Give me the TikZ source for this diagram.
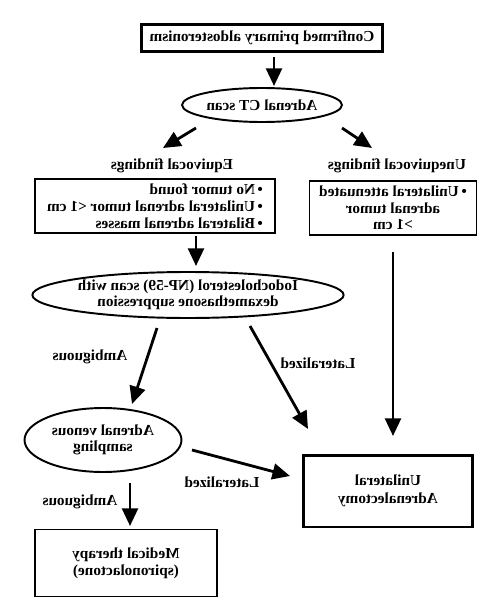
\documentclass[tikz,border=0pt]{standalone}
\usepackage{fontspec}
\setmainfont{Liberation Serif}
\usetikzlibrary{shapes.geometric}
\usetikzlibrary{arrows.meta}

\begin{document}
\begin{tikzpicture}[x=0.02cm,y=-0.02cm,
  every node/.style={font=\fontsize{8.7}{9.5}\selectfont\bfseries,xscale=-1,transform shape,inner sep=0pt},
  box/.style={draw,rectangle,line width=0.8pt},
  bigbox/.style={draw,rectangle,line width=1.7pt},
  oval/.style={draw,ellipse,line width=1.1pt},
  arr/.style={line width=1.6pt,-{Triangle[width=9pt,length=10pt]}}]
\useasboundingbox (0,0) rectangle (500,612);
% boxes and ovals
\node[bigbox,minimum width=4.84cm,minimum height=0.54cm] (confirmed) at (262,38) {Confirmed primary aldosteronism};
\node[oval,minimum width=3.2cm,minimum height=0.68cm] (ct) at (262,105) {Adrenal CT scan};
\node (equiv) at (172,166) {Equivocal findings};
\node (unequiv) at (397,166) {Unequivocal findings};
\node[box,minimum width=4.8cm,minimum height=1.08cm,align=left] (eqbox) at (155,206) {\textbullet\,No tumor found\\\textbullet\,Unilateral adrenal tumor <1 cm\\\textbullet\,Bilateral adrenal masses};
\node[box,minimum width=3.34cm,minimum height=1.08cm,align=center] (uneqbox) at (393,208) {\textbullet\,Unilateral attenuated\\adrenal tumor\\>1 cm};
\node[oval,minimum width=5.4cm,minimum height=0.92cm,align=center,font=\fontsize{8.7}{7.6}\selectfont\bfseries] (iodo) at (188,295) {Iodocholesterol (NP-59) scan with\\dexamethasone suppression};
\node (amb1) at (90,357) {Ambiguous};
\node (lat1) at (318,363) {Lateralized};
\node[oval,minimum width=3.14cm,minimum height=1.28cm,align=center] (avs) at (103,440) {Adrenal venous\\sampling};
\node (lat2) at (222,482) {Lateralized};
\node (amb2) at (80,502) {Ambiguous};
\node[bigbox,minimum width=3.4cm,minimum height=1.44cm,align=center,font=\fontsize{8.7}{10.4}\selectfont\bfseries] (adx) at (388,491) {Unilateral\\Adrenalectomy};
\node[box,line width=1.1pt,minimum width=3.64cm,minimum height=1.34cm,align=center] (med) at (126,563) {Medical therapy\\(spironolactone)};
% arrow ends
\coordinate (confirmed-out) at (274,57);
\coordinate (ct-in) at (274,86);
\coordinate (ct-left) at (196,128);
\coordinate (equiv-in) at (163,148);
\coordinate (ct-right) at (342,128);
\coordinate (unequiv-in) at (372,148);
\coordinate (eqbox-out) at (196,236);
\coordinate (iodo-in) at (196,266);
\coordinate (iodo-amb) at (157,328);
\coordinate (avs-in) at (132,404);
\coordinate (iodo-lat) at (250,326);
\coordinate (adx-in1) at (308,429);
\coordinate (uneqbox-out) at (393,252);
\coordinate (adx-in2) at (393,436);
\coordinate (avs-lat) at (192,450);
\coordinate (adx-in3) at (290,476);
\coordinate (avs-amb) at (130,483);
\coordinate (med-in) at (130,526);
\draw[arr] (confirmed-out) -- (ct-in);
\draw[arr] (ct-left) -- (equiv-in);
\draw[arr] (ct-right) -- (unequiv-in);
\draw[arr] (eqbox-out) -- (iodo-in);
\draw[arr] (iodo-amb) -- (avs-in);
\draw[arr] (iodo-lat) -- (adx-in1);
\draw[arr] (uneqbox-out) -- (adx-in2);
\draw[arr] (avs-lat) -- (adx-in3);
\draw[arr] (avs-amb) -- (med-in);
\end{tikzpicture}
\end{document}
